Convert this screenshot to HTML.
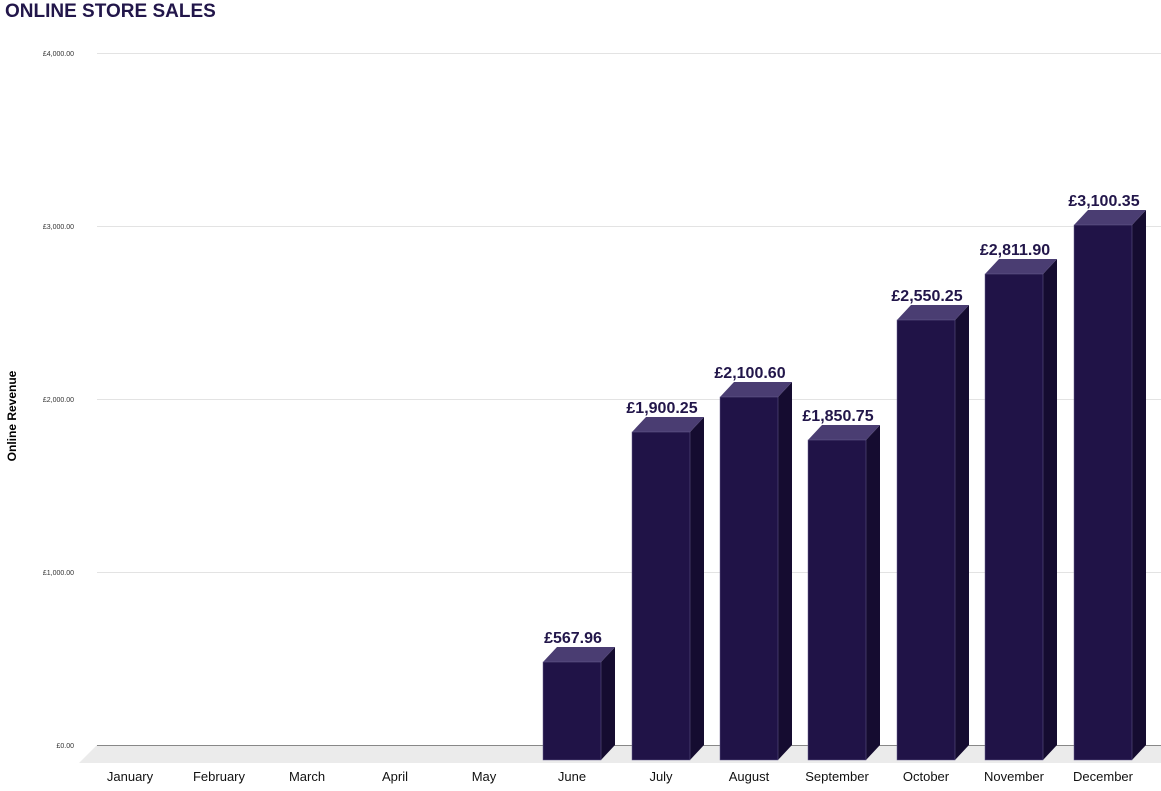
<!DOCTYPE html>
<html><head><meta charset="utf-8"><style>
body{margin:0;background:#fff;font-family:"Liberation Sans",Arial,sans-serif}
</style></head><body>
<svg width="1161" height="791" xmlns="http://www.w3.org/2000/svg" font-family="Liberation Sans, Arial, sans-serif" style="display:block">
<text x="5" y="17" font-size="19" font-weight="bold" fill="#22164a">ONLINE STORE SALES</text>
<text transform="translate(16,416) rotate(-90)" text-anchor="middle" font-size="12" font-weight="bold" fill="#000">Online Revenue</text>
<g stroke="#e3e3e3" stroke-width="1">
<line x1="97" y1="53.5" x2="1161" y2="53.5"/>
<line x1="97" y1="226.5" x2="1161" y2="226.5"/>
<line x1="97" y1="399.5" x2="1161" y2="399.5"/>
<line x1="97" y1="572.5" x2="1161" y2="572.5"/>
</g>
<g font-size="7" fill="#333" text-anchor="end">
<text x="74" y="56">£4,000.00</text>
<text x="74" y="229">£3,000.00</text>
<text x="74" y="402">£2,000.00</text>
<text x="74" y="575">£1,000.00</text>
<text x="74" y="748">£0.00</text>
</g>
<polygon points="97,745 1161,745 1161,763 79,763" fill="#ebebeb"/>
<line x1="97" y1="745.5" x2="1161" y2="745.5" stroke="#888" stroke-width="1"/>
<g font-size="13" fill="#111" text-anchor="middle">
<text x="130" y="781">January</text><text x="219" y="781">February</text><text x="307" y="781">March</text><text x="395" y="781">April</text><text x="484" y="781">May</text><text x="572" y="781">June</text><text x="661" y="781">July</text><text x="749" y="781">August</text><text x="837" y="781">September</text><text x="926" y="781">October</text><text x="1014" y="781">November</text><text x="1103" y="781">December</text>
</g>

<g>
<polygon points="601,662 615,647 615,745 601,760" fill="#150c30"/>
<polygon points="543,662 557,647 615,647 601,662" fill="#4a3d72"/>
<rect x="543" y="662" width="58" height="98" fill="#201347" stroke="#6a6090" stroke-width="0.5"/>
<text x="573" y="643" font-size="16" font-weight="bold" fill="#22164a" text-anchor="middle">£567.96</text>

<polygon points="690,432 704,417 704,745 690,760" fill="#150c30"/>
<polygon points="632,432 646,417 704,417 690,432" fill="#4a3d72"/>
<rect x="632" y="432" width="58" height="328" fill="#201347" stroke="#6a6090" stroke-width="0.5"/>
<text x="662" y="413" font-size="16" font-weight="bold" fill="#22164a" text-anchor="middle">£1,900.25</text>

<polygon points="778,397 792,382 792,745 778,760" fill="#150c30"/>
<polygon points="720,397 734,382 792,382 778,397" fill="#4a3d72"/>
<rect x="720" y="397" width="58" height="363" fill="#201347" stroke="#6a6090" stroke-width="0.5"/>
<text x="750" y="378" font-size="16" font-weight="bold" fill="#22164a" text-anchor="middle">£2,100.60</text>

<polygon points="866,440 880,425 880,745 866,760" fill="#150c30"/>
<polygon points="808,440 822,425 880,425 866,440" fill="#4a3d72"/>
<rect x="808" y="440" width="58" height="320" fill="#201347" stroke="#6a6090" stroke-width="0.5"/>
<text x="838" y="421" font-size="16" font-weight="bold" fill="#22164a" text-anchor="middle">£1,850.75</text>

<polygon points="955,320 969,305 969,745 955,760" fill="#150c30"/>
<polygon points="897,320 911,305 969,305 955,320" fill="#4a3d72"/>
<rect x="897" y="320" width="58" height="440" fill="#201347" stroke="#6a6090" stroke-width="0.5"/>
<text x="927" y="301" font-size="16" font-weight="bold" fill="#22164a" text-anchor="middle">£2,550.25</text>

<polygon points="1043,274 1057,259 1057,745 1043,760" fill="#150c30"/>
<polygon points="985,274 999,259 1057,259 1043,274" fill="#4a3d72"/>
<rect x="985" y="274" width="58" height="486" fill="#201347" stroke="#6a6090" stroke-width="0.5"/>
<text x="1015" y="255" font-size="16" font-weight="bold" fill="#22164a" text-anchor="middle">£2,811.90</text>

<polygon points="1132,225 1146,210 1146,745 1132,760" fill="#150c30"/>
<polygon points="1074,225 1088,210 1146,210 1132,225" fill="#4a3d72"/>
<rect x="1074" y="225" width="58" height="535" fill="#201347" stroke="#6a6090" stroke-width="0.5"/>
<text x="1104" y="206" font-size="16" font-weight="bold" fill="#22164a" text-anchor="middle">£3,100.35</text>
</g>
</svg>
</body></html>
